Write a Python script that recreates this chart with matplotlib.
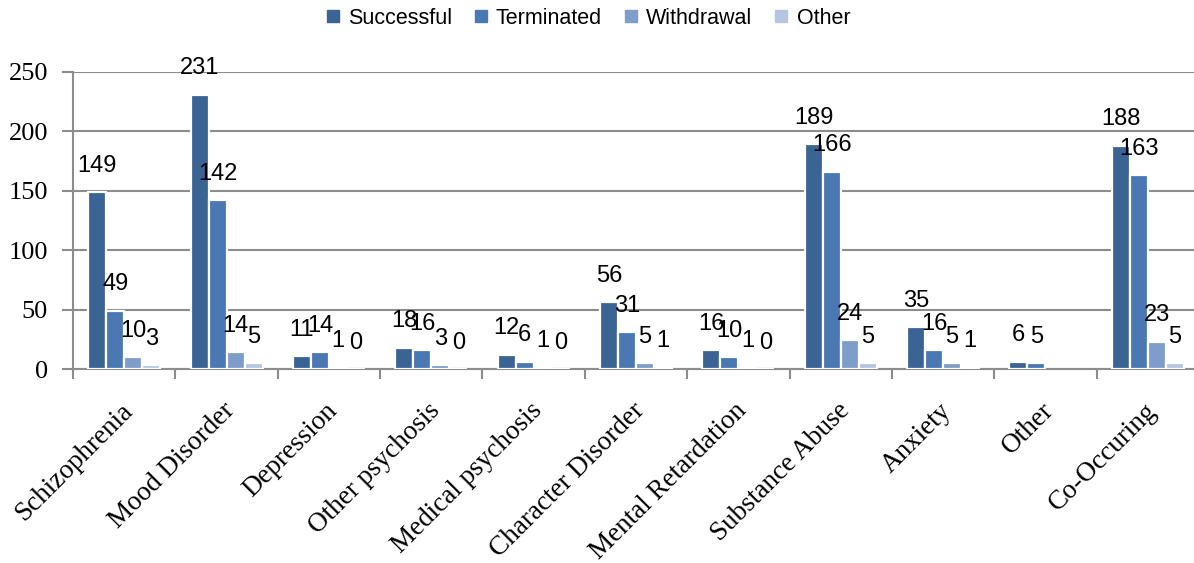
import numpy as np
import matplotlib
matplotlib.use("Agg")
import matplotlib.pyplot as plt
import matplotlib.transforms as mtransforms
from matplotlib.lines import Line2D

categories = ["Schizophrenia", "Mood Disorder", "Depression", "Other psychosis",
              "Medical psychosis", "Character Disorder", "Mental Retardation",
              "Substance Abuse", "Anxiety", "Other", "Co-Occuring"]
series_names = ["Successful", "Terminated", "Withdrawal", "Other"]
successful = [149, 231, 11, 18, 12, 56, 16, 189, 35, 6, 188]
terminated = [49, 142, 14, 16, 6, 31, 10, 166, 16, 5, 163]
withdrawal = [10, 14, 1, 3, 1, 5, 1, 24, 5, None, 23]
other = [3, 5, 0, 0, 0, 1, 0, 5, 1, None, 5]
y_ticks = [0, 50, 100, 150, 200, 250]

colors = ["#3b6495", "#4a78b3", "#7f9dca", "#b5c6e2"]
sans = ["Liberation Sans Narrow", "Liberation Sans", "DejaVu Sans"]
serif = ["Liberation Serif", "DejaVu Serif"]

W, H = 1194, 563
fig = plt.figure(figsize=(W / 100, H / 100), dpi=100)
ax = fig.add_axes([73 / W, 1 - 369 / H, (1199 - 73) / W, (369 - 72) / H])

x = np.arange(len(categories))
bw = 0.176
all_series = [successful, terminated, withdrawal, other]
for i, (vals, c) in enumerate(zip(all_series, colors)):
    offs = (i - 1.5) * bw
    for xi, v in zip(x, vals):
        if v is None:
            continue
        ax.bar(xi + offs, v, width=bw, color=c, edgecolor="white",
               linewidth=1.6, zorder=3)
        ax.annotate(str(v), (xi + offs, v), xytext=(0, 19),
                    textcoords="offset points", ha="center", va="center",
                    fontsize=17, family=sans, color="black", zorder=5)

ax.set_xlim(-0.5, len(categories) - 0.5)
ax.set_ylim(0, 250)
ax.set_yticks(y_ticks)
ax.set_yticklabels([str(t) for t in y_ticks], family=serif, fontsize=19)
ax.yaxis.grid(True, color="#8c8c8c", linewidth=1.5, zorder=0)
ax.set_axisbelow(True)

# category boundaries carry the tick marks; labels sit at the centres
ax.set_xticks(np.arange(len(categories) + 1) - 0.5)
ax.set_xticklabels([])
ax.set_xticks(x, minor=True)
ax.set_xticklabels(categories, minor=True, rotation=45, ha="right",
                   va="top", rotation_mode="anchor", family=serif, fontsize=19.5)
ax.tick_params(axis="x", which="minor", length=0, pad=21)
ax.tick_params(axis="x", which="major", length=7, color="#8c8c8c", width=1.5)
ax.tick_params(axis="y", length=8, color="#8c8c8c", width=1.5, pad=10)
shift = mtransforms.ScaledTranslation(-4 / 100, 0, fig.dpi_scale_trans)
for lbl in ax.get_xticklabels(minor=True):
    lbl.set_transform(lbl.get_transform() + shift)

for s in ["top", "right"]:
    ax.spines[s].set_visible(False)
for s in ["left", "bottom"]:
    ax.spines[s].set_color("#8c8c8c")
    ax.spines[s].set_linewidth(1.5)

handles = [Line2D([], [], marker="s", linestyle="none", markersize=9,
                  markerfacecolor=c, markeredgecolor=c) for c in colors]
fig.legend(handles, series_names, loc="center", bbox_to_anchor=(586 / W, 1 - 18 / H),
           ncol=4, frameon=False, handletextpad=0.2, columnspacing=0.85,
           handlelength=1.0, prop={"family": sans, "size": 15.5})

fig.savefig("out.png", dpi=100)
